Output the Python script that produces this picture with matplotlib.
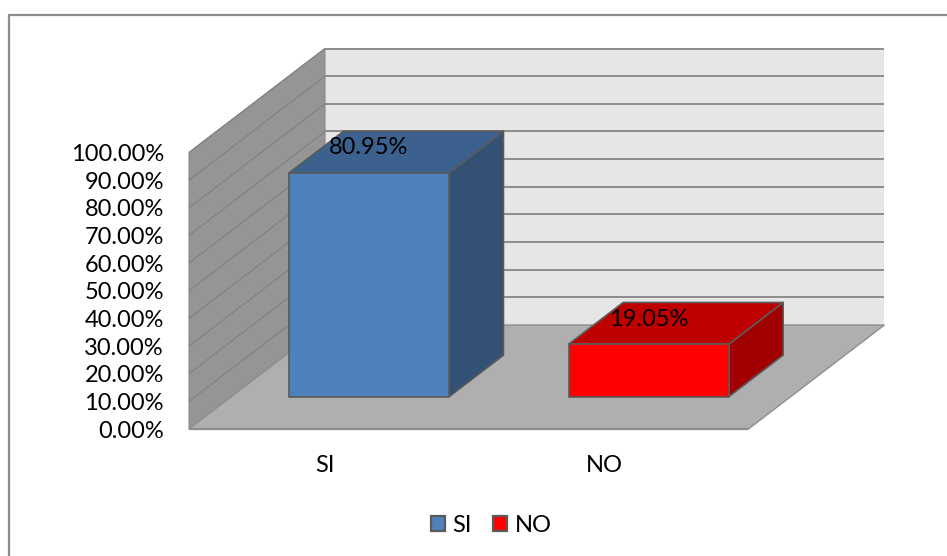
import matplotlib
matplotlib.use("Agg")
import matplotlib.pyplot as plt
from matplotlib.patches import Polygon, Rectangle

plt.rcParams['font.family'] = ['Lato', 'DejaVu Sans']

categories = ["SI", "NO"]
values = [80.95, 19.05]
value_labels = ["80.95%", "19.05%"]
ticks = [0, 10, 20, 30, 40, 50, 60, 70, 80, 90, 100]
tick_labels = ["0.00%", "10.00%", "20.00%", "30.00%", "40.00%", "50.00%",
               "60.00%", "70.00%", "80.00%", "90.00%", "100.00%"]

front_colors = ["#4f81bd", "#ff0000"]
top_colors = ["#3c618e", "#bf0000"]
side_colors = ["#325175", "#a00000"]


def proj(cat, depth, val):
    # cat 0..2 along the floor, depth 0..1 front to back, val 0..100
    x = 189 + cat * 279.7 + depth * 136
    y = 429 - depth * 104 - val * 2.765
    return x, y


fig = plt.figure(figsize=(9.47, 5.56), dpi=100)
ax = fig.add_axes([0, 0, 1, 1])
ax.set_xlim(0, 947)
ax.set_ylim(556, 0)
ax.axis("off")

# chart border, only top and left show in the picture
ax.plot([8.5, 8.5, 947], [556, 14.5, 14.5], color="#8c8c8c", lw=1.6, zorder=1)

# back wall, side wall, floor
ax.add_patch(Polygon([proj(0, 1, 0), proj(2, 1, 0), proj(2, 1, 100), proj(0, 1, 100)],
                     fc="#e6e6e6", ec="none", zorder=2))
ax.add_patch(Polygon([proj(0, 0, 0), proj(0, 1, 0), proj(0, 1, 100), proj(0, 0, 100)],
                     fc="#959595", ec="#8a8a8a", lw=0.8, zorder=2))
ax.add_patch(Polygon([proj(0, 0, 0), proj(2, 0, 0), proj(2, 1, 0), proj(0, 1, 0)],
                     fc="#afafaf", ec="#8e8e8e", lw=1.0, zorder=3))

# gridlines
for t in ticks[1:]:
    a, b, c = proj(0, 0, t), proj(0, 1, t), proj(2, 1, t)
    ax.plot([a[0], b[0]], [a[1], b[1]], color="#828282", lw=0.9, solid_capstyle="butt", zorder=2.5)
    ax.plot([b[0], c[0]], [b[1], c[1]], color="#8c8c8c", lw=1.4, solid_capstyle="butt", zorder=2.5)
a, b = proj(0, 0, 0), proj(2, 0, 0)
ax.plot([a[0], b[0]], [a[1], b[1]], color="#8c8c8c", lw=1.6, solid_capstyle="butt", zorder=3.5)

# bars
half_w = 0.286
d0, d1 = 0.31, 0.71
edge = "#5a5a5a"
for i, (v, lab) in enumerate(zip(values, value_labels)):
    c = i + 0.493
    l, r = c - half_w, c + half_w
    ax.add_patch(Polygon([proj(r, d0, 0), proj(r, d1, 0), proj(r, d1, v), proj(r, d0, v)],
                         fc=side_colors[i], ec=edge, lw=1.2, joinstyle="round", zorder=4))
    ax.add_patch(Polygon([proj(l, d0, v), proj(r, d0, v), proj(r, d1, v), proj(l, d1, v)],
                         fc=top_colors[i], ec=edge, lw=1.2, joinstyle="round", zorder=4))
    ax.add_patch(Polygon([proj(l, d0, 0), proj(r, d0, 0), proj(r, d0, v), proj(l, d0, v)],
                         fc=front_colors[i], ec=edge, lw=1.2, joinstyle="round", zorder=4))
    tx, ty = proj(c, d0, v)
    ax.text(tx, ty - 25, lab, ha="center", va="center", fontsize=17, color="black", zorder=5)
    bx, by = proj(c, 0, 0)
    ax.text(bx - 2, by + 36, categories[i], ha="center", va="center", fontsize=17, color="black", zorder=5)

# value axis labels
for t, lab in zip(ticks, tick_labels):
    x, y = proj(0, 0, t)
    ax.text(x - 25, y + 2, lab, ha="right", va="center", fontsize=17, color="black", zorder=5)

# legend
for lx, tx, col, name in zip([431, 493], [452, 515], front_colors, categories):
    ax.add_patch(Rectangle((lx, 516), 14, 15, fc=col, ec=edge, lw=1.6, zorder=5))
    ax.text(tx, 525, name, ha="left", va="center", fontsize=17, color="black", zorder=5)

fig.savefig("out.png", dpi=100)
plt.close(fig)
